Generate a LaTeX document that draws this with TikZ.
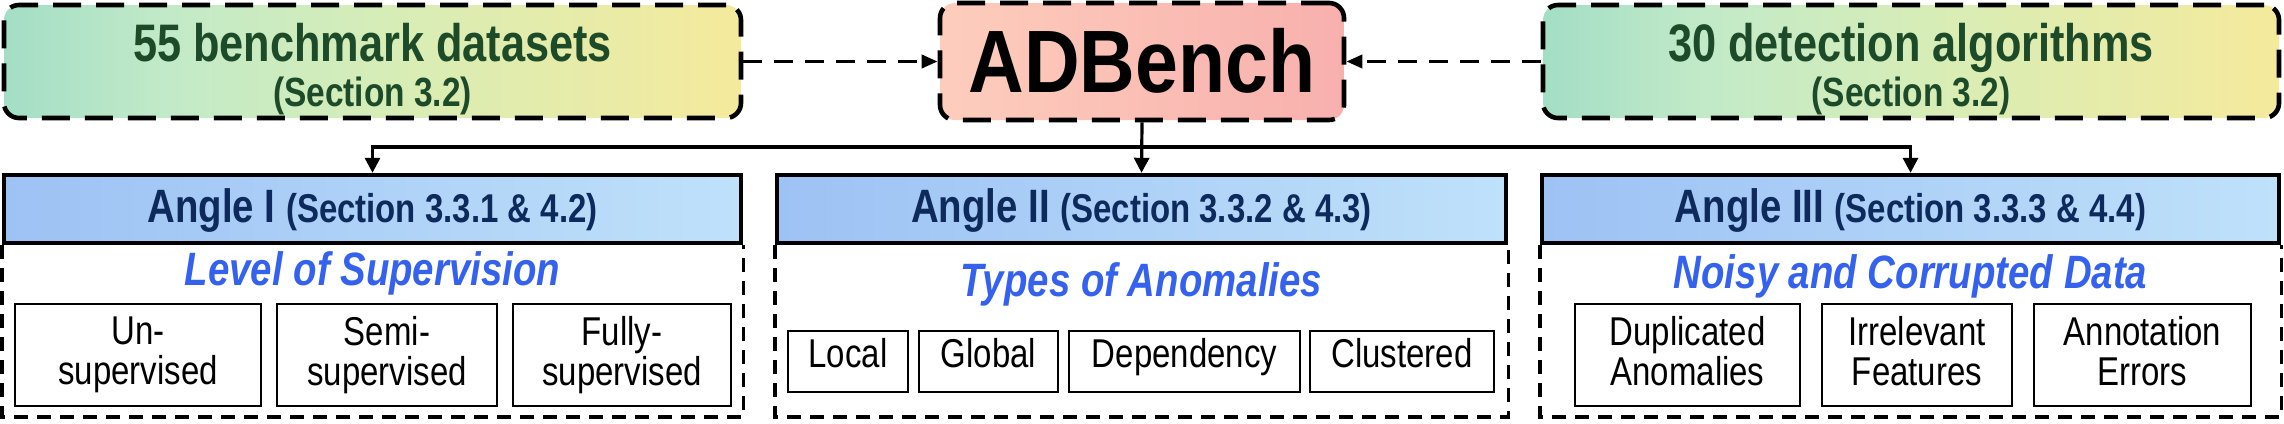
\documentclass[tikz,border=0pt]{standalone}
\usepackage{fontspec}
\setmainfont{Liberation Sans}[FakeStretch=0.82]
\newfontfamily\adbfont{Liberation Sans}[FakeStretch=0.87]
\usetikzlibrary{arrows.meta}
\definecolor{gA}{HTML}{A3DEC6}
\definecolor{gB}{HTML}{C2EAC8}
\definecolor{gC}{HTML}{D8EDB6}
\definecolor{gD}{HTML}{F5EA9C}
\definecolor{pinkA}{HTML}{FDCDBC}
\definecolor{pinkB}{HTML}{F8B0AE}
\definecolor{hdrA}{HTML}{9DC2F4}
\definecolor{hdrB}{HTML}{BFE1FA}
\definecolor{dgreen}{HTML}{1D4B29}
\definecolor{navy}{HTML}{0E2A5C}
\definecolor{tblue}{HTML}{3462EE}
\pgfdeclarehorizontalshading{greenyellow}{100bp}{color(0bp)=(gA); color(25bp)=(gA); color(36bp)=(gB); color(52bp)=(gC); color(75bp)=(gD); color(100bp)=(gD)}
\newcommand{\fsTopA}{\fontsize{26.4pt}{32pt}\selectfont\bfseries}
\newcommand{\fsTopB}{\fontsize{20.4pt}{25pt}\selectfont\bfseries}
\newcommand{\fsAng}{\fontsize{23.4pt}{28pt}\selectfont\bfseries}
\newcommand{\fsSec}{\fontsize{20.1pt}{24pt}\selectfont\bfseries}
\newcommand{\fsTitle}{\fontsize{23.4pt}{28pt}\selectfont\bfseries\itshape}
\begin{document}
\begin{tikzpicture}[x=0.5pt,y=-0.5pt,
  topbox/.style={draw=black, line width=2.3pt, dash pattern=on 14pt off 7.5pt,
    rounded corners=7.5pt, inner sep=0pt, minimum height=56.5pt},
  hdr/.style={draw=black, line width=2.2pt, left color=hdrA, right color=hdrB,
    inner sep=0pt, minimum height=34pt},
  contdash/.style={line width=1.7pt, dash pattern=on 7pt off 4.5pt},
  sbox/.style={draw=black, line width=1pt, fill=white, inner sep=0pt, align=center,
    font=\fontsize{20.1pt}{20pt}\selectfont},
  sboxone/.style={sbox, minimum height=30.5pt, text height=0.72em, text depth=0.12em},
  sboxtwo/.style={sbox, minimum height=51pt},
  solidarrow/.style={line width=1.6pt, -{Triangle[length=7.5pt,width=7.5pt]}},
  dasharrow/.style={line width=1.8pt, dash pattern=on 9.5pt off 6pt,
    -{Triangle[length=8pt,width=6.5pt]}},
  txt/.style={anchor=base, inner sep=0pt}]
\useasboundingbox (0,0) rectangle (2284,423);

% top boxes
\node[topbox, shade, shading=greenyellow, minimum width=368.5pt] (data) at (372.5,61.5) {};
\node[topbox, left color=pinkA, right color=pinkB, minimum width=202pt, minimum height=58.5pt] (adb) at (1142,61.5) {};
\node[topbox, shade, shading=greenyellow, minimum width=368pt] (algo) at (1911,61.5) {};

\node[txt, text=dgreen] (dataA) at (372.5,61) {\fsTopA 55 benchmark datasets};
\node[txt, text=dgreen] (dataB) at (372.5,106) {\fsTopB (Section 3.2)};
\node[txt] (adbt) at (1142,92) {\adbfont\fontsize{44.3pt}{52pt}\selectfont\bfseries ADBench};
\node[txt, text=dgreen] (algoA) at (1911,61) {\fsTopA 30 detection algorithms};
\node[txt, text=dgreen] (algoB) at (1911,106) {\fsTopB (Section 3.2)};

% dashed arrows
\draw[dasharrow] (data.east) -- (adb.west);
\draw[dasharrow] (algo.west) -- (adb.east);

% headers
\coordinate (cb) at (0,417);
\coordinate (bus) at (1142,147);
\node[hdr, minimum width=368.5pt] (h1) at (372.5,209) {};
\node[hdr, minimum width=364.5pt] (h2) at (1141.5,209) {};
\node[hdr, minimum width=368.5pt] (h3) at (1910.5,209) {};
\foreach \a in {h1,h2,h3}{
  \draw[contdash] (\a.south west) -- (\a.south west |- cb) -- (\a.south east |- cb) -- (\a.south east);
}
\node[txt, text=navy] (h1t) at (372.5,222) {\fsAng Angle I {\fsSec(Section 3.3.1 \& 4.2)}};
\node[txt, text=navy] (h2t) at (1141.5,222) {\fsAng Angle II {\fsSec(Section 3.3.2 \& 4.3)}};
\node[txt, text=navy] (h3t) at (1910.5,222) {\fsAng Angle III {\fsSec(Section 3.3.3 \& 4.4)}};

% solid arrows
\draw[solidarrow] (adb.south) -- (h2.north);
\draw[solidarrow] (bus) -| (h1.north);
\draw[solidarrow] (bus) -| (h3.north);

% titles
\node[txt, text=tblue] (t1) at (372.5,285) {\fsTitle Level of Supervision};
\node[txt, text=tblue] (t2) at (1141.5,296.7) {\fsTitle Types of Anomalies};
\node[txt, text=tblue] (t3) at (1910.5,288) {\fsTitle Noisy and Corrupted Data};

% small boxes
\node[sboxtwo, minimum width=123pt] (s11) at (138,355) {Un-\\supervised};
\node[sboxtwo, minimum width=110pt] (s12) at (387,355) {Semi-\\supervised};
\node[sboxtwo, minimum width=109pt] (s13) at (622,355) {Fully-\\supervised};

\node[sboxone, minimum width=60pt] (s21) at (848,361.5) {Local};
\node[sboxone, minimum width=69.5pt] (s22) at (988.5,361.5) {Global};
\node[sboxone, minimum width=115.5pt] (s23) at (1184.5,361.5) {Dependency};
\node[sboxone, minimum width=92pt] (s24) at (1402,361.5) {Clustered};

\node[sboxtwo, minimum width=112.5pt] (s31) at (1687.5,355) {Duplicated\\Anomalies\vphantom{p}};
\node[sboxtwo, minimum width=95pt] (s32) at (1917,355) {Irrelevant\\Features\vphantom{p}};
\node[sboxtwo, minimum width=108.5pt] (s33) at (2142.5,355) {Annotation\\Errors\vphantom{p}};
\end{tikzpicture}
\end{document}
